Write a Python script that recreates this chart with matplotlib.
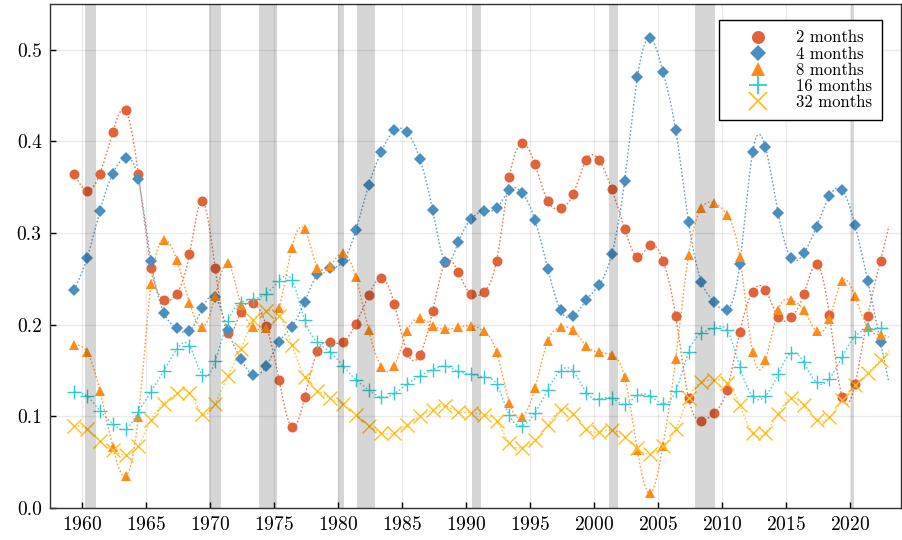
import numpy as np
import matplotlib
matplotlib.use("Agg")
import matplotlib.pyplot as plt
from matplotlib.lines import Line2D

plt.rcParams['font.family'] = 'cmr10'
plt.rcParams['mathtext.fontset'] = 'cm'
plt.rcParams['axes.formatter.use_mathtext'] = True

# ---- data ----
years = np.arange(1959, 2023)          # one point per year, plotted mid-year
offset = 0.4

m2 = [0.365, 0.346, 0.365, 0.410, 0.434, 0.365, 0.262, 0.227, 0.234, 0.277,
      0.335, 0.262, 0.191, 0.214, 0.224, 0.199, 0.140, 0.088, 0.121, 0.171,
      0.181, 0.181, 0.201, 0.232, 0.251, 0.223, 0.170, 0.167, 0.215, 0.268,
      0.257, 0.233, 0.236, 0.270, 0.361, 0.398, 0.375, 0.335, 0.327, 0.343,
      0.380, 0.380, 0.348, 0.305, 0.274, 0.287, 0.270, 0.209, 0.120, 0.095,
      0.104, 0.129, 0.192, 0.236, 0.238, 0.208, 0.208, 0.233, 0.266, 0.211,
      0.121, 0.135, 0.209, 0.270]
m4 = [0.238, 0.273, 0.324, 0.365, 0.382, 0.359, 0.269, 0.213, 0.196, 0.193,
      0.218, 0.230, 0.194, 0.163, 0.145, 0.155, 0.181, 0.198, 0.225, 0.255,
      0.262, 0.269, 0.303, 0.352, 0.389, 0.412, 0.410, 0.381, 0.325, 0.268,
      0.290, 0.315, 0.324, 0.327, 0.347, 0.344, 0.314, 0.261, 0.216, 0.209,
      0.227, 0.243, 0.277, 0.357, 0.470, 0.513, 0.476, 0.412, 0.312, 0.247,
      0.225, 0.216, 0.266, 0.388, 0.394, 0.322, 0.273, 0.278, 0.307, 0.340,
      0.347, 0.309, 0.248, 0.181]
m8 = [0.178, 0.170, 0.128, 0.067, 0.035, 0.099, 0.244, 0.293, 0.271, 0.224,
      0.197, 0.231, 0.267, 0.222, 0.197, 0.196, 0.218, 0.284, 0.304, 0.262,
      0.264, 0.278, 0.252, 0.194, 0.154, 0.155, 0.193, 0.207, 0.199, 0.195,
      0.197, 0.199, 0.193, 0.170, 0.115, 0.099, 0.131, 0.182, 0.197, 0.194,
      0.177, 0.170, 0.167, 0.143, 0.063, 0.016, 0.068, 0.163, 0.276, 0.327,
      0.333, 0.320, 0.274, 0.170, 0.161, 0.216, 0.227, 0.216, 0.193, 0.206,
      0.248, 0.231, 0.197, 0.189]
m16 = [0.127, 0.122, 0.106, 0.092, 0.086, 0.105, 0.127, 0.150, 0.173, 0.177,
       0.145, 0.160, 0.204, 0.224, 0.228, 0.234, 0.248, 0.249, 0.205, 0.181,
       0.170, 0.155, 0.140, 0.129, 0.121, 0.125, 0.135, 0.144, 0.151, 0.155,
       0.149, 0.146, 0.143, 0.135, 0.101, 0.090, 0.104, 0.129, 0.150, 0.149,
       0.126, 0.119, 0.120, 0.113, 0.123, 0.122, 0.114, 0.128, 0.170, 0.191,
       0.196, 0.194, 0.154, 0.122, 0.122, 0.146, 0.169, 0.159, 0.137, 0.141,
       0.165, 0.187, 0.195, 0.196]
m32 = [0.090, 0.086, 0.073, 0.063, 0.058, 0.068, 0.096, 0.114, 0.125, 0.126,
       0.103, 0.114, 0.144, 0.173, 0.205, 0.215, 0.210, 0.178, 0.143, 0.128,
       0.120, 0.113, 0.102, 0.090, 0.082, 0.082, 0.091, 0.100, 0.107, 0.111,
       0.105, 0.104, 0.102, 0.095, 0.071, 0.066, 0.074, 0.091, 0.107, 0.103,
       0.086, 0.083, 0.085, 0.078, 0.065, 0.059, 0.068, 0.086, 0.120, 0.137,
       0.140, 0.136, 0.112, 0.082, 0.082, 0.103, 0.120, 0.112, 0.096, 0.099,
       0.118, 0.134, 0.147, 0.162]

labels = ["2 months", "4 months", "8 months", "16 months", "32 months"]

# NBER recessions (start, end) in decimal years
recessions = [(1960.25, 1961.1), (1969.9, 1970.85), (1973.85, 1975.2),
              (1980.0, 1980.5), (1981.5, 1982.9), (1990.5, 1991.2),
              (2001.15, 2001.85), (2007.9, 2009.5), (2020.1, 2020.3)]


def spline(x, y, xs):
    """natural cubic spline through (x, y), last segment extrapolated"""
    x = np.asarray(x, float)
    y = np.asarray(y, float)
    n = len(x)
    h = np.diff(x)
    A = np.zeros((n, n))
    r = np.zeros(n)
    A[0, 0] = 1
    A[-1, -1] = 1
    for i in range(1, n - 1):
        A[i, i - 1] = h[i - 1]
        A[i, i] = 2 * (h[i - 1] + h[i])
        A[i, i + 1] = h[i]
        r[i] = 6 * ((y[i + 1] - y[i]) / h[i] - (y[i] - y[i - 1]) / h[i - 1])
    M = np.linalg.solve(A, r)
    k = np.clip(np.searchsorted(x, xs) - 1, 0, n - 2)
    t0 = xs - x[k]
    t1 = x[k + 1] - xs
    hk = h[k]
    return (M[k] * t1**3 / (6 * hk) + M[k + 1] * t0**3 / (6 * hk)
            + (y[k] / hk - M[k] * hk / 6) * t1
            + (y[k + 1] / hk - M[k + 1] * hk / 6) * t0)


colors = ["#e0633a", "#4a8fc0", "#ff8c1a", "#36c8c8", "#ffbf1f"]
markers = ["o", "D", "^", "+", "x"]
msizes = [7.2, 6.0, 7.6, 10, 9.5]

fig = plt.figure(figsize=(9.02, 5.40), dpi=100)
ax = fig.add_axes([50 / 902, 32 / 540, 851 / 902, 504 / 540])

xd = years + offset
xs = np.linspace(xd[0], 2023.05, 1200)
for ys, c, mk, ms, lab in zip([m2, m4, m8, m16, m32], colors, markers, msizes, labels):
    ax.plot(xs, spline(xd, ys, xs), color=c, lw=1.0, ls=(0, (1.2, 1.5)), alpha=0.85, zorder=2)
    if mk in "+x":
        ax.plot(xd, ys, ls="none", marker=mk, ms=ms, mew=1.0, color=c, zorder=3)
    else:
        ax.plot(xd, ys, ls="none", marker=mk, ms=ms, mew=0, color=c, zorder=3)

for a, b in recessions:
    ax.axvspan(a, b, color="black", alpha=0.16, lw=0, zorder=4)

ax.set_xlim(1957.5, 2024.0)
ax.set_ylim(0, 0.55)
ax.set_xticks(np.arange(1960, 2021, 5))
ax.set_yticks(np.arange(0, 0.51, 0.1))
ax.set_yticklabels(["%.1f" % v for v in np.arange(0, 0.51, 0.1)])
ax.grid(True, color="black", alpha=0.08, lw=1.0)
ax.set_axisbelow(True)
ax.tick_params(direction="in", length=4, width=1, labelsize=14, pad=6)
for s in ax.spines.values():
    s.set_linewidth(1.0)
    s.set_color("#333333")

handles = [Line2D([], [], ls="none", marker=mk, ms=ms, color=c,
                  mew=(1.3 if mk in "+x" else 0))
           for c, mk, ms in zip(colors, markers, msizes)]
leg = ax.legend(handles, labels, loc="upper right", bbox_to_anchor=(0.978, 0.968),
                borderaxespad=0, fontsize=12, markerscale=1.3, fancybox=False,
                edgecolor="black", framealpha=1, labelspacing=0.05,
                handlelength=3.4, handletextpad=0.6, borderpad=0.6)
leg.get_frame().set_linewidth(1.0)

fig.savefig("out.png", dpi=100)
